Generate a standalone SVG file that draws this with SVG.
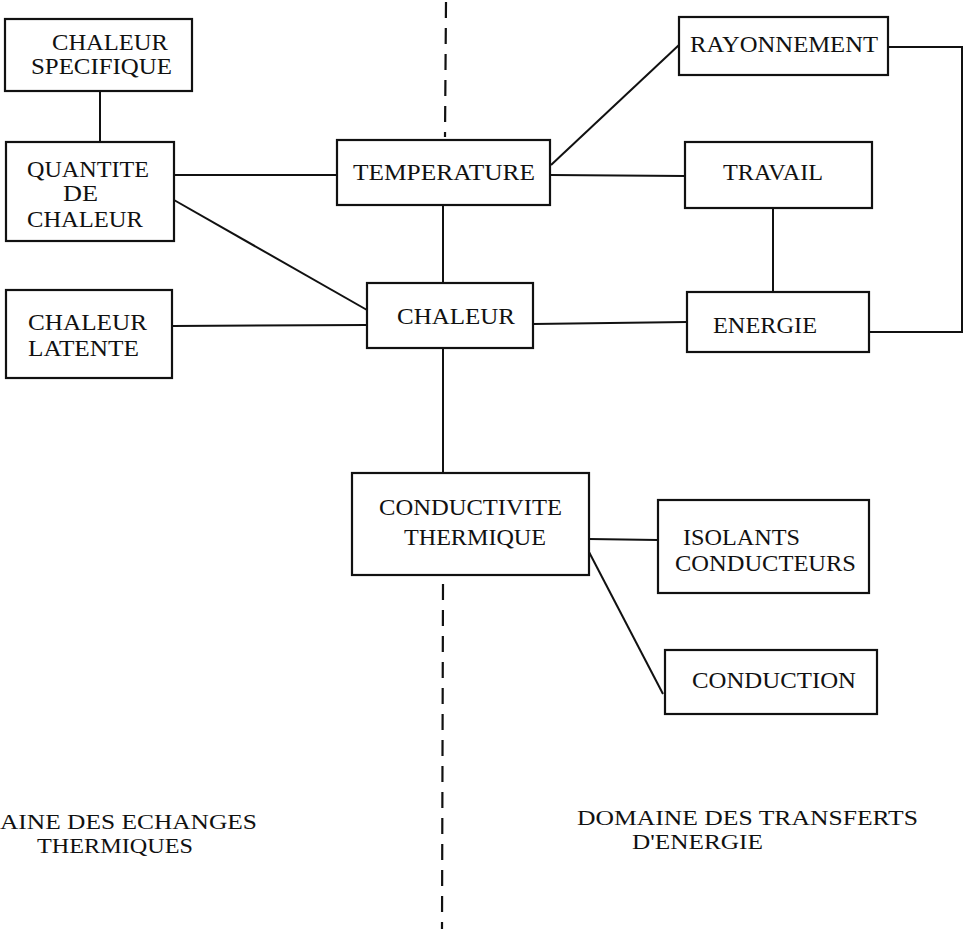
<svg xmlns="http://www.w3.org/2000/svg" width="971" height="929" viewBox="0 0 971 929">
<style>
  .box { fill: #fff; stroke: #111; stroke-width: 2.2; }
  .lbl { font-family: "Liberation Serif", "Times New Roman", serif; font-size: 24px; fill: #111; }
  .dom { font-family: "Liberation Serif", "Times New Roman", serif; font-size: 21px; fill: #111; }
  .con { fill: none; stroke: #111; stroke-width: 2; }
  .div { fill: none; stroke: #111; stroke-width: 2.2; stroke-dasharray: 16 10; }
</style>
<rect width="971" height="929" fill="#fff"/>

<g id="divider">
  <line class="div" x1="446" y1="2" x2="445" y2="137"/>
  <line class="div" x1="443" y1="584" x2="442" y2="929"/>
</g>

<g id="connectors">
  <line class="con" x1="100" y1="91" x2="100" y2="142"/>
  <line class="con" x1="174" y1="175" x2="337" y2="175"/>
  <line class="con" x1="174" y1="200" x2="367" y2="310"/>
  <line class="con" x1="551" y1="165" x2="679" y2="45"/>
  <line class="con" x1="551" y1="175" x2="685" y2="176"/>
  <line class="con" x1="443" y1="205" x2="443" y2="283"/>
  <line class="con" x1="773" y1="208" x2="773" y2="292"/>
  <polyline class="con" points="888,47 962,47 962,332 869,332"/>
  <line class="con" x1="172" y1="326" x2="367" y2="325"/>
  <line class="con" x1="533" y1="324" x2="687" y2="322"/>
  <line class="con" x1="443" y1="348" x2="443" y2="473"/>
  <line class="con" x1="589" y1="539" x2="658" y2="540"/>
  <line class="con" x1="589" y1="552" x2="663" y2="694"/>
</g>

<g id="chaleur-specifique">
  <rect class="box" x="5" y="19" width="187" height="72"/>
  <text class="lbl" x="52" y="50" textLength="116" lengthAdjust="spacingAndGlyphs">CHALEUR</text>
  <text class="lbl" x="31" y="74" textLength="141" lengthAdjust="spacingAndGlyphs">SPECIFIQUE</text>
</g>

<g id="quantite-de-chaleur">
  <rect class="box" x="6" y="142" width="168" height="99"/>
  <text class="lbl" x="27" y="177" textLength="122" lengthAdjust="spacingAndGlyphs">QUANTITE</text>
  <text class="lbl" x="63" y="201" textLength="35" lengthAdjust="spacingAndGlyphs">DE</text>
  <text class="lbl" x="27" y="227" textLength="116" lengthAdjust="spacingAndGlyphs">CHALEUR</text>
</g>

<g id="chaleur-latente">
  <rect class="box" x="6" y="290" width="166" height="88"/>
  <text class="lbl" x="28" y="330" textLength="119" lengthAdjust="spacingAndGlyphs">CHALEUR</text>
  <text class="lbl" x="28" y="356" textLength="111" lengthAdjust="spacingAndGlyphs">LATENTE</text>
</g>

<g id="temperature">
  <rect class="box" x="337" y="140" width="213" height="65"/>
  <text class="lbl" x="353" y="180" textLength="182" lengthAdjust="spacingAndGlyphs">TEMPERATURE</text>
</g>

<g id="chaleur">
  <rect class="box" x="367" y="283" width="166" height="65"/>
  <text class="lbl" x="397" y="324" textLength="118" lengthAdjust="spacingAndGlyphs">CHALEUR</text>
</g>

<g id="rayonnement">
  <rect class="box" x="679" y="17" width="209" height="58"/>
  <text class="lbl" x="690" y="52" textLength="188" lengthAdjust="spacingAndGlyphs">RAYONNEMENT</text>
</g>

<g id="travail">
  <rect class="box" x="685" y="142" width="187" height="66"/>
  <text class="lbl" x="723" y="180" textLength="100" lengthAdjust="spacingAndGlyphs">TRAVAIL</text>
</g>

<g id="energie">
  <rect class="box" x="687" y="292" width="182" height="60"/>
  <text class="lbl" x="713" y="333" textLength="104" lengthAdjust="spacingAndGlyphs">ENERGIE</text>
</g>

<g id="conductivite-thermique">
  <rect class="box" x="352" y="473" width="237" height="102"/>
  <text class="lbl" x="379" y="515" textLength="183" lengthAdjust="spacingAndGlyphs">CONDUCTIVITE</text>
  <text class="lbl" x="404" y="545" textLength="142" lengthAdjust="spacingAndGlyphs">THERMIQUE</text>
</g>

<g id="isolants-conducteurs">
  <rect class="box" x="658" y="500" width="211" height="93"/>
  <text class="lbl" x="683" y="545" textLength="117" lengthAdjust="spacingAndGlyphs">ISOLANTS</text>
  <text class="lbl" x="675" y="571" textLength="181" lengthAdjust="spacingAndGlyphs">CONDUCTEURS</text>
</g>

<g id="conduction">
  <rect class="box" x="665" y="650" width="212" height="64"/>
  <text class="lbl" x="692" y="688" textLength="164" lengthAdjust="spacingAndGlyphs">CONDUCTION</text>
</g>

<g id="domain-labels">
  <text class="dom" x="0" y="829" textLength="257" lengthAdjust="spacingAndGlyphs">AINE DES ECHANGES</text>
  <text class="dom" x="37" y="853" textLength="156" lengthAdjust="spacingAndGlyphs">THERMIQUES</text>
  <text class="dom" x="577" y="825" textLength="341" lengthAdjust="spacingAndGlyphs">DOMAINE DES TRANSFERTS</text>
  <text class="dom" x="632" y="849" textLength="131" lengthAdjust="spacingAndGlyphs">D'ENERGIE</text>
</g>
</svg>
